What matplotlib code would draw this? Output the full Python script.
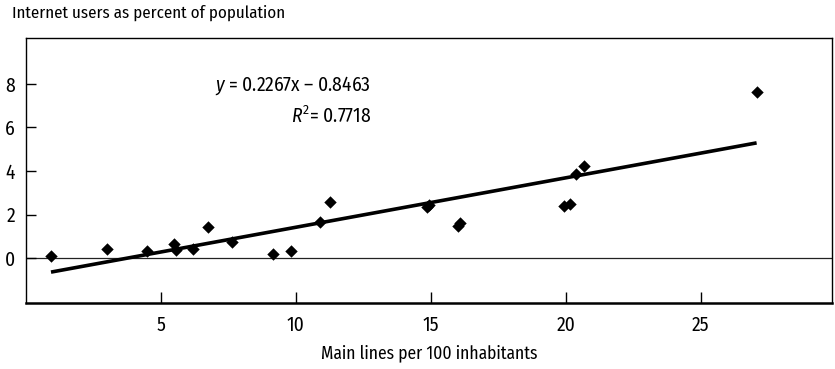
import matplotlib
matplotlib.use("Agg")
import matplotlib.pyplot as plt
import numpy as np

# Data
main_lines = [0.93, 3.02, 4.47, 5.49, 5.56, 6.20, 6.74, 7.62, 9.16, 9.83,
              10.90, 11.26, 14.85, 14.92, 16.00, 16.08, 19.94, 20.16,
              20.38, 20.68, 27.07]
internet_pct = [0.11, 0.41, 0.32, 0.67, 0.37, 0.41, 1.44, 0.75, 0.21, 0.32,
                1.67, 2.58, 2.33, 2.45, 1.49, 1.60, 2.39, 2.48,
                3.85, 4.22, 7.61]
slope = 0.2267
intercept = -0.8463
r_squared = 0.7718
x_ticks = [5, 10, 15, 20, 25]
y_ticks = [0, 2, 4, 6, 8]

FONT = 'Fira Sans Condensed'
plt.rcParams['font.family'] = [FONT, 'DejaVu Sans']
plt.rcParams['mathtext.fontset'] = 'custom'
plt.rcParams['mathtext.it'] = FONT + ':italic'
plt.rcParams['mathtext.rm'] = FONT
plt.rcParams['mathtext.default'] = 'rm'

fig = plt.figure(figsize=(8.35, 3.69), dpi=100)
ax = fig.add_axes([0.031, 0.179, 0.965, 0.718])

ax.set_xlim(0, 29.85)
ax.set_ylim(-2.05, 10.1)

ax.axhline(0, color='#222222', lw=0.9, zorder=1)

x = np.array(main_lines)
ax.scatter(x, internet_pct, marker='D', s=40, color='black', zorder=3, linewidths=0)

xl = np.array([min(main_lines), max(main_lines)])
ax.plot(xl, slope * xl + intercept, color='black', lw=2.6, zorder=2,
        solid_capstyle='butt')

ax.set_xticks(x_ticks)
ax.set_yticks(y_ticks)
ax.tick_params(axis='x', direction='in', length=8, width=1, labelsize=14, pad=9)
ax.tick_params(axis='y', direction='in', length=7, width=1, labelsize=14, pad=8)
for side in ['top', 'right', 'left']:
    ax.spines[side].set_linewidth(1.0)
ax.spines['bottom'].set_linewidth(1.8)

fig.text(371 / 835, 1 - 86 / 369, r'$\mathit{y}$ = %.4fx – %.4f' % (slope, -intercept),
         ha='right', va='center', fontsize=14)
fig.text(371 / 835, 1 - 116 / 369, r'$\mathit{R}^{2}$= %.4f' % r_squared,
         ha='right', va='center', fontsize=14)

fig.text(12 / 835, 1 - 13 / 369, 'Internet users as percent of population',
         ha='left', va='center', fontsize=12.2)
ax.set_xlabel('Main lines per 100 inhabitants', fontsize=12.6, labelpad=7)

fig.savefig('out.png', dpi=100)
